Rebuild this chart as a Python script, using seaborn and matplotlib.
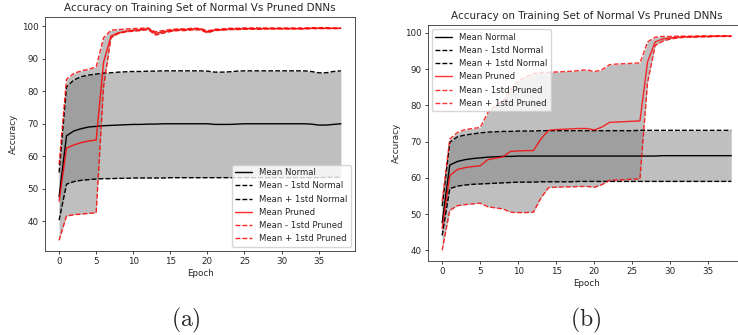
import numpy as np
import pandas as pd
import matplotlib
matplotlib.use("Agg")
import matplotlib.pyplot as plt
import seaborn as sns

sns.set_style("ticks")
plt.rcParams['font.family'] = ['DejaVu Sans']
plt.rcParams['mathtext.fontset'] = 'cm'

epochs = list(range(39))

# ---- Panel (a) ----
a_norm_mean = [47.6, 66.3, 67.8, 68.5, 69.0, 69.2, 69.4, 69.5, 69.6, 69.7, 69.8, 69.8, 69.9, 69.9, 70.0, 70.0,
               70.0, 70.0, 70.0, 70.0, 70.0, 69.8, 69.8, 69.8, 69.9, 70.0, 70.0, 70.0, 70.0, 70.0, 70.0, 70.0,
               70.0, 70.0, 69.9, 69.6, 69.6, 69.8, 70.0]
a_norm_lo = [40.3, 51.4, 52.2, 52.6, 52.8, 53.0, 53.1, 53.1, 53.2, 53.2, 53.3, 53.3, 53.3, 53.3, 53.3, 53.4,
             53.4, 53.4, 53.4, 53.4, 53.4, 53.4, 53.4, 53.4, 53.4, 53.4, 53.4, 53.4, 53.4, 53.4, 53.4, 53.4,
             53.4, 53.4, 53.4, 53.4, 53.5, 53.5, 53.5]
a_norm_hi = [55.0, 81.4, 83.5, 84.5, 85.0, 85.3, 85.6, 85.7, 85.9, 86.0, 86.1, 86.1, 86.2, 86.2, 86.3, 86.3,
             86.3, 86.3, 86.3, 86.3, 86.2, 85.9, 85.9, 86.0, 86.2, 86.3, 86.3, 86.3, 86.3, 86.3, 86.3, 86.3,
             86.3, 86.3, 86.1, 85.7, 85.7, 86.1, 86.3]
a_prun_mean = [46.2, 62.5, 63.5, 64.2, 64.7, 65.0, 89.0, 97.0, 98.0, 98.5, 98.8, 99.0, 99.3, 97.8, 98.3, 98.7,
               99.0, 99.0, 99.2, 99.2, 98.3, 98.9, 99.0, 99.2, 99.2, 99.3, 99.3, 99.3, 99.3, 99.3, 99.3, 99.3,
               99.3, 99.3, 99.4, 99.4, 99.4, 99.4, 99.4]
a_prun_lo = [34.1, 41.6, 42.0, 42.2, 42.4, 42.6, 81.5, 96.5, 97.8, 98.3, 98.5, 98.7, 99.0, 97.3, 97.9, 98.4,
             98.7, 98.7, 98.9, 98.9, 98.0, 98.7, 98.8, 99.0, 99.0, 99.1, 99.1, 99.1, 99.2, 99.2, 99.2, 99.2,
             99.2, 99.2, 99.3, 99.3, 99.3, 99.3, 99.3]
a_prun_hi = [57.5, 83.7, 85.5, 86.3, 86.8, 87.5, 96.5, 98.8, 99.0, 99.2, 99.3, 99.4, 99.5, 98.3, 98.7, 99.0,
             99.2, 99.2, 99.4, 99.4, 98.6, 99.1, 99.2, 99.4, 99.4, 99.5, 99.5, 99.5, 99.5, 99.5, 99.5, 99.5,
             99.5, 99.5, 99.6, 99.6, 99.6, 99.5, 99.5]

# ---- Panel (b) ----
b_norm_mean = [47.6, 63.5, 64.5, 65.0, 65.3, 65.5, 65.7, 65.8, 65.9, 65.9, 66.0, 66.0, 66.0, 66.0, 66.0, 66.0,
               66.0, 66.0, 66.0, 66.0, 66.0, 66.0, 66.0, 66.0, 66.0, 66.0, 66.0, 66.0, 66.0, 66.1, 66.1, 66.1,
               66.1, 66.1, 66.1, 66.1, 66.1, 66.1, 66.1]
b_norm_lo = [44.1, 57.0, 57.7, 58.0, 58.2, 58.3, 58.4, 58.5, 58.6, 58.7, 58.8, 58.8, 58.8, 58.9, 58.9, 58.9,
             58.9, 58.9, 59.0, 59.0, 59.0, 59.0, 59.0, 59.0, 59.0, 59.0, 59.0, 59.0, 59.0, 59.0, 59.0, 59.0,
             59.0, 59.0, 59.0, 59.0, 59.0, 59.0, 59.0]
b_norm_hi = [52.2, 69.8, 71.3, 71.8, 72.1, 72.4, 72.6, 72.7, 72.8, 72.8, 72.9, 72.9, 72.9, 73.0, 73.0, 73.0,
             73.0, 73.0, 73.0, 73.0, 73.0, 73.0, 73.0, 73.0, 73.0, 73.0, 73.1, 73.1, 73.1, 73.1, 73.1, 73.1,
             73.1, 73.1, 73.1, 73.1, 73.1, 73.1, 73.1]
b_prun_mean = [46.0, 60.6, 62.3, 62.8, 63.1, 63.3, 65.0, 65.4, 65.8, 67.3, 67.4, 67.5, 67.5, 70.8, 73.1, 73.3,
               73.4, 73.5, 73.6, 73.6, 73.2, 74.0, 75.3, 75.4, 75.5, 75.6, 75.7, 92.0, 97.5, 98.3, 98.6, 98.8,
               98.9, 98.9, 99.0, 99.0, 99.1, 99.1, 99.1]
b_prun_lo = [40.0, 51.0, 52.3, 52.6, 52.8, 53.0, 52.0, 51.7, 51.4, 50.5, 50.4, 50.4, 50.5, 54.5, 57.3, 57.4,
             57.5, 57.5, 57.6, 57.6, 57.4, 58.1, 59.3, 59.4, 59.5, 59.6, 59.7, 86.3, 96.5, 97.7, 98.3, 98.6,
             98.8, 98.8, 98.9, 98.9, 99.0, 99.0, 99.0]
b_prun_hi = [53.5, 70.7, 72.5, 73.3, 73.6, 73.9, 78.0, 80.0, 81.1, 84.4, 86.7, 87.9, 88.8, 89.0, 89.1, 89.2,
             89.3, 89.4, 89.6, 89.8, 89.3, 89.8, 91.2, 91.4, 91.5, 91.6, 91.7, 97.5, 98.8, 99.0, 99.0, 99.1,
             99.1, 99.1, 99.2, 99.2, 99.2, 99.2, 99.2]

title = "Accuracy on Training Set of Normal Vs Pruned DNNs"
labels = ["Mean Normal", "Mean - 1std Normal", "Mean + 1std Normal",
          "Mean Pruned", "Mean - 1std Pruned", "Mean + 1std Pruned"]

fig = plt.figure(figsize=(7.38, 3.35), dpi=100)
ax_a = fig.add_axes([45/738, (335-251)/335, 310/738, 234/335])
ax_b = fig.add_axes([427.7/738, (335-261)/335, 318/738, 236/335])

lw = 1.0
dash = (3.5, 1.5)


def draw(ax, nm, nlo, nhi, pm, plo, phi, legend_loc, red_alpha):
    sns.lineplot(x=epochs, y=nm, ax=ax, color='black', linewidth=lw, label=labels[0])
    sns.lineplot(x=epochs, y=nlo, ax=ax, color='black', linewidth=lw, label=labels[1]).lines[-1].set_dashes(dash)
    sns.lineplot(x=epochs, y=nhi, ax=ax, color='black', linewidth=lw, label=labels[2]).lines[-1].set_dashes(dash)
    ax.fill_between(epochs, nlo, nhi, color='gray', alpha=0.5, linewidth=0)
    sns.lineplot(x=epochs, y=pm, ax=ax, color='red', alpha=red_alpha, linewidth=lw, label=labels[3])
    sns.lineplot(x=epochs, y=plo, ax=ax, color='red', alpha=red_alpha, linewidth=lw, label=labels[4]).lines[-1].set_dashes(dash)
    sns.lineplot(x=epochs, y=phi, ax=ax, color='red', alpha=red_alpha, linewidth=lw, label=labels[5]).lines[-1].set_dashes(dash)
    ax.fill_between(epochs, plo, phi, color='gray', alpha=0.5, linewidth=0)
    ax.set_title(title, fontsize=7.5, pad=4)
    ax.set_xlabel("Epoch", fontsize=6.3, labelpad=2)
    ax.set_ylabel("Accuracy", fontsize=6.3, labelpad=3)
    ax.set_xticks([0, 5, 10, 15, 20, 25, 30, 35])
    ax.tick_params(labelsize=6.3, length=2.5, width=0.6, pad=2)
    for s in ax.spines.values():
        s.set_linewidth(0.6)
        s.set_color('#333333')
    ax.legend(loc=legend_loc, fontsize=6.1, handlelength=2.0, borderpad=0.4,
              labelspacing=0.5, framealpha=0.8, fancybox=True)


draw(ax_a, a_norm_mean, a_norm_lo, a_norm_hi, a_prun_mean, a_prun_lo, a_prun_hi, 'lower right', 0.85)
draw(ax_b, b_norm_mean, b_norm_lo, b_norm_hi, b_prun_mean, b_prun_lo, b_prun_hi, 'upper left', 0.8)

fig.text(186/738, 1 - 320/335, r'$\mathrm{(a)}$', fontsize=17, ha='center', va='center')
fig.text(586/738, 1 - 320/335, r'$\mathrm{(b)}$', fontsize=17, ha='center', va='center')

fig.savefig("out.png", dpi=100)
